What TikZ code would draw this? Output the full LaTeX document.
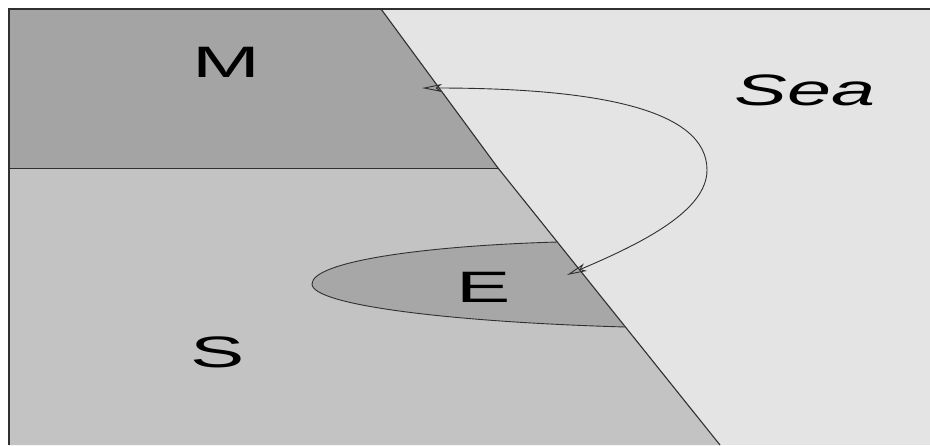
\documentclass[tikz,border=0pt]{standalone}
\usepackage{fontspec}
\setmainfont{Liberation Sans}
\usetikzlibrary{arrows.meta}
\definecolor{seac}{HTML}{E4E4E4}
\definecolor{mc}{HTML}{A4A4A4}
\definecolor{sc}{HTML}{C3C3C3}
\definecolor{ec}{HTML}{A7A7A7}
\definecolor{linec}{HTML}{303030}
\tikzset{
  lbl/.style={anchor=base, inner sep=0pt, font=\fontsize{44}{44}\selectfont},
  edge/.style={draw=linec, line width=1.1pt},
  arr/.style={draw=linec, line width=0.9pt, {Stealth[open,length=20pt,width=8pt,inset=5pt]}-{Stealth[open,length=20pt,width=8pt,inset=5pt]}}
}
\begin{document}
\begin{tikzpicture}[x=1pt,y=-1pt]
\useasboundingbox (0,0) rectangle (930,445);
\fill[white] (0,0) rectangle (930,445);
% coordinates
\coordinate (tl) at (9,9);
\coordinate (tr) at (930,9);
\coordinate (bl) at (9,445);
\coordinate (br) at (930,445);
\coordinate (dtop) at (381,9);
\coordinate (dmid) at (498,168);
\coordinate (dbot) at (720,445);
\coordinate (hl) at (9,168);
\coordinate (eu) at (557.3,242);
\coordinate (el) at (625.4,327);
\coordinate (a1) at (422,88);
\coordinate (a2) at (567,275);
% regions
\fill[seac] (tl) rectangle (br);
\fill[mc] (tl) -- (dtop) -- (dmid) -- (hl) -- cycle;
\fill[sc] (hl) -- (dmid) -- (dbot) -- (bl) -- cycle;
\fill[ec] (eu) .. controls (420,246) and (312,262) .. (312,284) .. controls (312,305) and (450,322) .. (el) -- cycle;
\draw[edge, line width=0.9pt] (eu) .. controls (420,246) and (312,262) .. (312,284) .. controls (312,305) and (450,322) .. (el);
% lines
\draw[edge, line width=0.8pt] (hl) -- (dmid);
\draw[edge] (dtop) -- (dmid) -- (dbot);
\draw[draw=linec, line width=1.8pt] (tr) -- (tl) -- (bl);
% arrow
\draw[arr] (a1) .. controls (600,88) and (707,110) .. (707,170) .. controls (707,210) and (645,242) .. (a2);
% labels
\node[lbl] (m) at (226,77) {\scalebox{1.85}[1]{M}};
\node[lbl] (sea) at (805,105) {\scalebox{1.8}[1]{\itshape Sea}};
\node[lbl] (s) at (218,367) {\scalebox{1.85}[1]{S}};
\node[lbl] (e) at (484,302) {\scalebox{1.85}[1]{E}};
\end{tikzpicture}
\end{document}
